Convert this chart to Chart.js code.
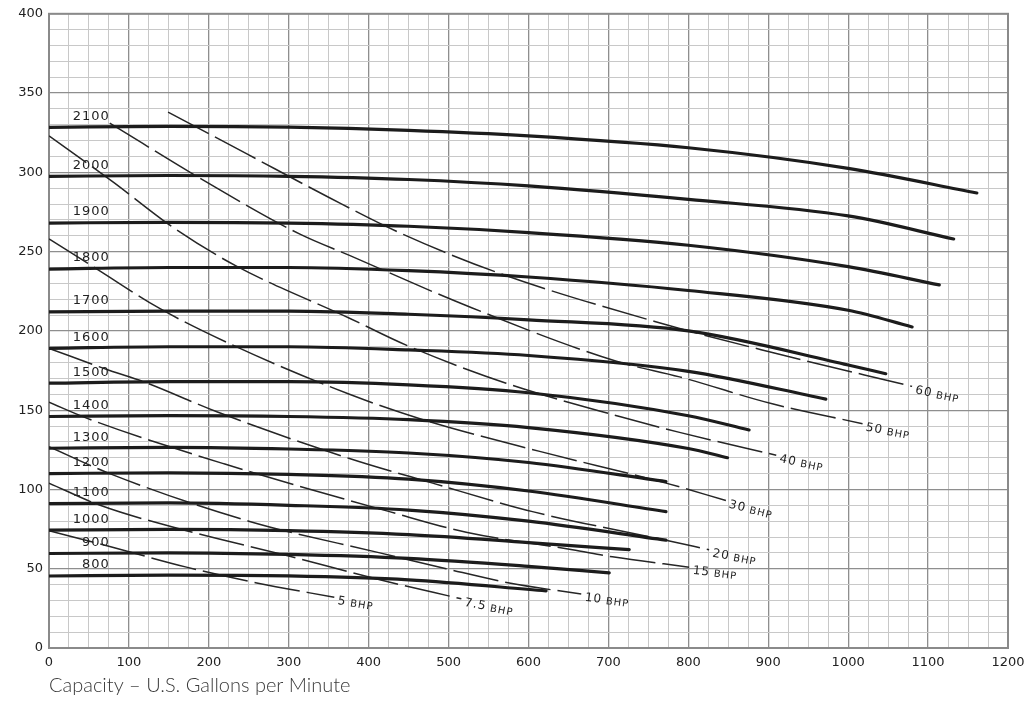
<!DOCTYPE html>
<html>
<head>
<meta charset="utf-8">
<script src="https://cdn.jsdelivr.net/npm/chart.js@4.4.1/dist/chart.umd.min.js"></script>
<style>
  html, body { margin: 0; padding: 0; background: #fff; }
  #pump { display: block; }
</style>
</head>
<body>
<canvas id="pump" width="1035" height="708"></canvas>
<script>
// head vs capacity at each pump speed, points are [gpm, head]
const rpmSpeeds = [2100, 2000, 1900, 1800, 1700, 1600, 1500, 1400, 1300, 1200, 1100, 1000, 900, 800];
const rpm2100 = [[0,328.4],[150,329],[300,328.5],[450,326.5],[600,323],[800,315.5],[1000,302.5],[1161,287]];
const rpm2000 = [[0,297.5],[150,298],[300,297.5],[450,295.5],[600,291.5],[800,283],[1000,272.5],[1132,258]];
const rpm1900 = [[0,268],[150,268.5],[300,268],[450,266],[600,262],[800,254],[1000,240.5],[1114,229]];
const rpm1800 = [[0,239],[150,240],[300,240],[450,238],[600,234],[800,225.5],[1000,213],[1080,202.5]];
const rpm1700 = [[0,212],[150,212.5],[300,212.5],[450,210.5],[600,207],[800,200],[1000,178.5],[1047,173]];
const rpm1600 = [[0,189],[150,190],[300,190],[450,188],[600,184.5],[800,174.5],[972,157]];
const rpm1500 = [[0,167],[150,168],[300,168],[450,166],[600,161],[800,146.5],[876,137.5]];
const rpm1400 = [[0,146],[150,146.5],[300,146],[450,144],[600,139],[800,125.8],[849,120]];
const rpm1300 = [[0,126],[150,126.5],[300,125.5],[450,123],[600,117],[772,105]];
const rpm1200 = [[0,110],[150,110.5],[300,109.5],[450,106.5],[600,99],[772,86]];
const rpm1100 = [[0,91],[150,91.5],[300,90],[450,87],[600,80],[772,68]];
const rpm1000 = [[0,74.3],[150,74.8],[300,74],[450,71.5],[600,66.5],[726,62]];
const rpm900 = [[0,59.6],[150,60],[300,59],[450,56.5],[600,51.5],[701,47.4]];
const rpm800 = [[0,45.4],[150,46],[300,45.5],[450,43],[622,36]];
const rpmCurves = [rpm2100, rpm2000, rpm1900, rpm1800, rpm1700, rpm1600, rpm1500,
                   rpm1400, rpm1300, rpm1200, rpm1100, rpm1000, rpm900, rpm800];

// brake horsepower lines
const bhpRatings = ['60', '50', '40', '30', '20', '15', '10', '7.5', '5'];
const bhp60 = [[149,338],[250,311],[351,284],[434,263],[560,237],[768,204.5],[900,187],[1080,165]];
const bhp50 = [[76,331],[200,293],[314,261],[376,247.6],[522,216],[709,181],[789,171],[905,154],[1018,141.5]];
const bhp40 = [[0,323],[80,294],[156,265],[234,241],[376,208],[447,191],[572,167],[714,146],[789,136],[910,121.6]];
const bhp30 = [[0,258],[60,239],[139,214],[230,191],[376,160],[468,144],[614,124],[772,104],[847,93]];
const bhp20 = [[0,189],[76,175],[118,168],[210,149],[376,119.5],[480,104],[605,86],[772,68],[826,62]];
const bhp15 = [[0,155],[47,145],[220,116],[426,86],[522,73],[655,62],[705,57.5],[801,51]];
const bhp10 = [[0,127],[76,110],[250,80],[414,60],[497,50],[576,41],[666,34]];
const bhp7_5 = [[0,104],[64,90],[172,74],[300,58],[414,43],[516,31]];
const bhp5 = [[0,74],[76,64],[172,51],[260,41],[357,32]];
const bhpLines = [bhp60, bhp50, bhp40, bhp30, bhp20, bhp15, bhp10, bhp7_5, bhp5];

// axis tick labels (grid is every 25 gpm / 10 ft)
const xTickLabels = [0, 100, 200, 300, 400, 500, 600, 700, 800, 900, 1000, 1100, 1200];
const yTickLabels = [0, 50, 100, 150, 200, 250, 300, 350, 400];

const toXY = pts => pts.map(p => ({x: p[0], y: p[1]}));

const datasets = [];
rpmCurves.forEach((pts, i) => {
  datasets.push({
    label: rpmSpeeds[i] + ' RPM',
    data: toXY(pts),
    showLine: true,
    borderColor: '#1c1c1c',
    borderWidth: 3.2,
    pointRadius: 0,
    cubicInterpolationMode: 'monotone',
    borderCapStyle: 'round'
  });
});
bhpLines.forEach((pts, i) => {
  datasets.push({
    label: bhpRatings[i] + ' BHP',
    data: toXY(pts),
    showLine: true,
    borderColor: '#262626',
    borderWidth: 1.5,
    borderDash: [46, 7],
    pointRadius: 0,
    cubicInterpolationMode: 'monotone'
  });
});

const isMajorX = v => xTickLabels.includes(v);
const isMajorY = v => yTickLabels.includes(v);

const frame = {
  id: 'frame',
  beforeDatasetsDraw(chart) {
    const {ctx, chartArea: a} = chart;
    ctx.save();
    ctx.strokeStyle = '#8a8a8a';
    ctx.lineWidth = 2;
    ctx.strokeRect(a.left, a.top, a.right - a.left, a.bottom - a.top);
    ctx.restore();
  }
};

const curveLabels = {
  id: 'curveLabels',
  afterDatasetsDraw(chart) {
    const {ctx, scales: {x, y}} = chart;
    ctx.save();
    ctx.fillStyle = '#222';
    ctx.letterSpacing = '1px';
    ctx.font = '13px "DejaVu Sans"';
    ctx.textAlign = 'right';
    ctx.textBaseline = 'middle';
    rpmSpeeds.forEach((rpm, i) => {
      const start = rpmCurves[i][0];
      ctx.fillText(String(rpm), x.getPixelForValue(76), y.getPixelForValue(start[1]) - 11);
    });

    ctx.textAlign = 'left';
    bhpLines.forEach((pts, i) => {
      const a = pts[pts.length - 2], b = pts[pts.length - 1];
      const ax = x.getPixelForValue(a[0]), ay = y.getPixelForValue(a[1]);
      const bx = x.getPixelForValue(b[0]), by = y.getPixelForValue(b[1]);
      const ang = Math.atan2(by - ay, bx - ax) * 0.85;
      ctx.save();
      ctx.translate(bx, by);
      ctx.rotate(ang);
      ctx.font = '12px "DejaVu Sans"';
      ctx.fillText(bhpRatings[i], 4, 3);
      const w = ctx.measureText(bhpRatings[i]).width;
      ctx.font = '10px "DejaVu Sans"';
      ctx.fillText('BHP', 4 + w + 4, 4);
      ctx.restore();
    });
    ctx.restore();
  }
};

const tickFont = {family: '"DejaVu Sans"', size: 13};

new Chart(document.getElementById('pump'), {
  type: 'scatter',
  data: {datasets},
  options: {
    responsive: false,
    animation: false,
    layout: {padding: {top: 13, right: 27, bottom: 0, left: 0}},
    plugins: {legend: {display: false}, tooltip: {enabled: false}},
    scales: {
      x: {
        type: 'linear',
        min: 0,
        max: 1200,
        afterFit: s => { s.height = 60; },
        border: {display: false},
        grid: {
          drawTicks: false,
          color: c => isMajorX(c.tick.value) ? '#8e8e8e' : '#c8c8c8',
          lineWidth: c => isMajorX(c.tick.value) ? 1.3 : 1
        },
        ticks: {
          stepSize: 25,
          autoSkip: false,
          maxRotation: 0,
          padding: 7,
          color: '#222',
          font: tickFont,
          callback: v => isMajorX(v) ? String(v) : ''
        },
        title: {
          display: true,
          text: 'Capacity – U.S. Gallons per Minute',
          align: 'start',
          color: '#3a3a3a',
          font: {family: 'Lato', size: 20, weight: 300},
          padding: {top: 2, bottom: 10}
        }
      },
      y: {
        type: 'linear',
        min: 0,
        max: 400,
        afterFit: s => { s.width = 49; },
        border: {display: false},
        grid: {
          drawTicks: false,
          color: c => isMajorY(c.tick.value) ? '#8e8e8e' : '#c8c8c8',
          lineWidth: c => isMajorY(c.tick.value) ? 1.3 : 1
        },
        ticks: {
          stepSize: 10,
          autoSkip: false,
          padding: 6,
          color: '#222',
          font: tickFont,
          callback: v => isMajorY(v) ? String(v) : ''
        }
      }
    }
  },
  plugins: [frame, curveLabels]
});
</script>
</body>
</html>
